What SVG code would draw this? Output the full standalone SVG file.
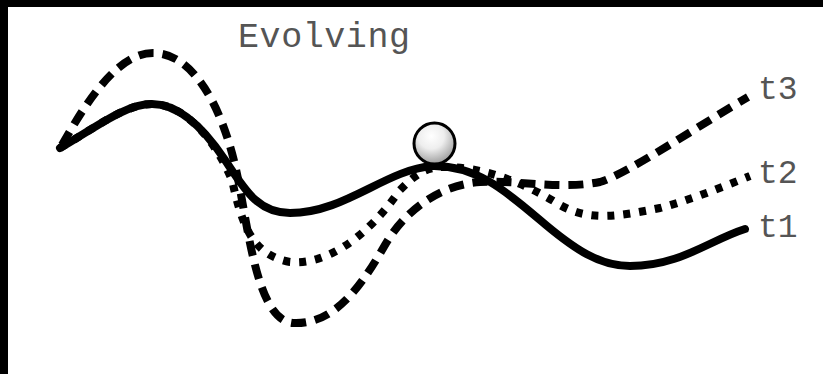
<svg xmlns="http://www.w3.org/2000/svg" width="823" height="374" viewBox="0 0 823 374">
<style>
.curve{fill:none;stroke:#000;stroke-width:8;stroke-linejoin:round}
.t1{stroke-linecap:round}
.t2{stroke-dasharray:7 9;stroke-linecap:butt}
.t3{stroke-dasharray:15 9;stroke-linecap:butt}
.lbl{font-family:"Liberation Mono","Courier New",monospace;font-size:33px;fill:#555}
.title{font-size:35px}
</style>
<defs>
<radialGradient id="ballGrad" cx="0.42" cy="0.32" r="0.7">
<stop offset="0" stop-color="#ffffff"/>
<stop offset="0.45" stop-color="#eeeeee"/>
<stop offset="1" stop-color="#9a9a9a"/>
</radialGradient>
</defs>
<rect x="0" y="0" width="823" height="374" fill="#fff"/>
<rect x="0" y="0" width="8" height="374" fill="#000"/>
<rect x="0" y="0" width="823" height="7" fill="#000"/>
<text class="lbl title" x="238" y="47" textLength="172" lengthAdjust="spacing">Evolving</text>
<g id="connectors">
<path id="t3-curve" class="curve t3" d="M62,145 C90,95 120,53 153,53 C195,53 222,110 235,165 C248,220 255,320 293,323 C335,325 362,285 385,245 C405,210 440,185 480,182 C520,180 560,190 600,182 C625,175 700,125 748,97"/>
<path id="t2-curve" class="curve t2" d="M60,148 C95,128 125,104 152,104 C185,104 215,140 232,180 C242,225 252,255 290,262 C325,265 365,240 400,190 C415,175 425,167 445,167 C480,167 520,180 560,205 C590,222 620,216 660,208 C690,200 720,188 750,176"/>
<path id="t1-curve" class="curve t1" d="M60,148 C95,128 125,104 152,104 C180,104 205,130 225,160 C245,190 258,213 290,213 C345,213 385,170 432,166 C475,165 505,190 540,220 C575,250 600,266 630,266 C680,266 710,240 745,229"/>
</g>
<g id="ball">
<circle cx="434.5" cy="143.5" r="20.5" fill="url(#ballGrad)" stroke="#000" stroke-width="3"/>
</g>
<g id="label-t3"><text class="lbl" x="758" y="99">t3</text></g>
<g id="label-t2"><text class="lbl" x="758" y="183">t2</text></g>
<g id="label-t1"><text class="lbl" x="758" y="237">t1</text></g>
</svg>
